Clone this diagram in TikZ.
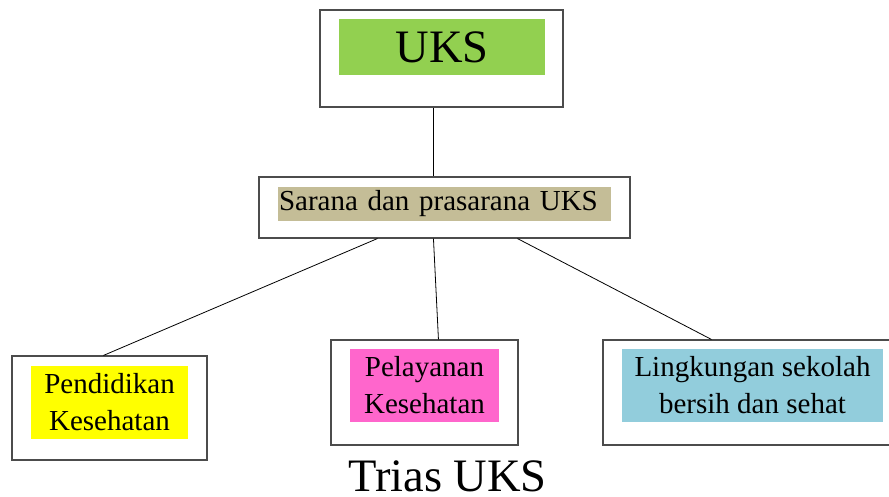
\documentclass[tikz,border=0pt]{standalone}
\usepackage{fontspec}
\setmainfont{Liberation Serif}
\usetikzlibrary{positioning}

\definecolor{uksgreen}{HTML}{92D050}
\definecolor{ukstan}{HTML}{C4BD97}
\definecolor{uksyellow}{HTML}{FFFF00}
\definecolor{ukspink}{HTML}{FF66CC}
\definecolor{uksblue}{HTML}{92CDDC}

\begin{document}
\begin{tikzpicture}[
    x=1pt, y=-1pt,
    frame/.style={rectangle, draw=black!70, line width=1.1pt, inner sep=0pt},
    label/.style={rectangle, inner sep=0pt, text centered, align=center, font=\fontsize{29}{37}\selectfont},
    link/.style={draw=black, line width=0.8pt}
]
\useasboundingbox (0,0) rectangle (889,497);

% Frames
\node[frame, minimum width=243pt, minimum height=97pt] (topbox) at (441.5,58.5) {};
\node[frame, minimum width=371pt, minimum height=61pt] (midbox) at (444.5,207.5) {};
\node[frame, minimum width=195pt, minimum height=104pt] (leftbox) at (109.5,408) {};
\node[frame, minimum width=187pt, minimum height=105pt] (pelbox) at (424.5,392.5) {};
\node[frame, minimum width=292pt, minimum height=105pt] (linbox) at (749,392.5) {};

% Coloured labels
\node[label, fill=uksgreen, minimum width=206pt, minimum height=56pt, font=\fontsize{46.5}{50}\selectfont] (uks) at (442,47) {UKS};
\node[label, fill=ukstan, minimum width=333pt, minimum height=34pt, text width=331pt, align=left, inner xsep=1pt] (sarana) at (444.5,204) {Sarana dan prasarana UKS};
\node[label, fill=uksyellow, minimum width=157pt, minimum height=73pt] (pendidikan) at (109.5,402.5) {Pendidikan\\Kesehatan};
\node[label, fill=ukspink, minimum width=149pt, minimum height=73pt] (pelayanan) at (424.5,385.5) {Pelayanan\\Kesehatan};
\node[label, fill=uksblue, minimum width=261pt, minimum height=73pt] (lingkungan) at (752.5,385.5) {Lingkungan sekolah\\bersih dan sehat};

% Title
\node[anchor=base, inner sep=0pt, text depth=0pt, font=\fontsize{46.5}{50}\selectfont] (trias) at (447.5,491) {Trias UKS};

% Connectors
\draw[link] ([xshift=114pt]topbox.south west) -- ([xshift=175pt]midbox.north west);
\draw[link] ([xshift=119pt]midbox.south west) -- ([xshift=92pt]leftbox.north west);
\draw[link] ([xshift=175pt]midbox.south west) -- ([xshift=108pt]pelbox.north west);
\draw[link] ([xshift=259pt]midbox.south west) -- ([xshift=109pt]linbox.north west);

\end{tikzpicture}
\end{document}
